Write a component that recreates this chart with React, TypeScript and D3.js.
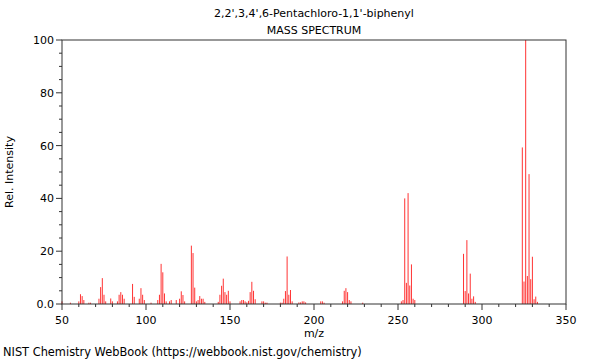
import { useEffect } from "react"
import * as d3 from "d3"

// m/z of each peak and its relative intensity
const masses = [
  50, 55, 60, 61, 62, 63, 66, 67, 72, 73, 74, 75, 76, 79, 80, 83, 84, 85, 86, 87,
  92, 93, 96, 97, 98, 99, 103, 107, 108, 109, 110, 111, 112, 114, 115, 118, 120, 121, 122, 123,
  127, 128, 129, 130, 131, 132, 133, 134, 135, 143, 144, 145, 146, 147, 148, 149, 150,
  156, 157, 158, 159, 160, 161, 162, 163, 164, 165, 169, 170, 171, 172,
  180, 181, 182, 183, 184, 185, 186, 187, 191, 192, 193, 194, 195, 204, 205, 206,
  217, 218, 219, 220, 221, 222, 229, 252, 253, 254, 255, 256, 257, 258, 259, 260,
  289, 290, 291, 292, 293, 294, 295, 296, 324, 325, 326, 327, 328, 329, 330, 331, 332, 333,
]
const intensities = [
  1, 0.5, 1, 3.7, 3, 1.5, 0.5, 0.5, 2, 6.4, 9.8, 3.5, 1, 2.1, 1, 1, 3.5, 4.5, 3.5, 2,
  7.6, 2.7, 2, 6, 3.5, 1.5, 0.5, 1.5, 3.5, 15.2, 12, 4, 1, 1, 1.5, 1.5, 2, 4.8, 3.4, 1,
  22.1, 19.3, 6.2, 1, 1.5, 3, 2, 2, 0.8, 0.8, 3.5, 6.9, 9.6, 4.5, 3.5, 5, 1,
  1, 1.5, 1.5, 1, 0.6, 1.2, 4.5, 8.4, 5, 1.8, 1, 1, 0.5, 0.5,
  0.5, 0.5, 2, 4.9, 18, 3.5, 5.3, 1, 0.6, 0.6, 1, 1, 0.6, 1, 1, 0.5,
  1, 5, 6, 4.5, 1.5, 1, 0.5, 1, 1.5, 40, 8, 42, 7, 15, 2, 1.5,
  19, 4.9, 24.2, 4, 11.5, 2, 2.9, 0.8, 59.3, 8.5, 100, 10.6, 49.2, 9.4, 17.9, 1.8, 2.8, 0.8,
]

const xTicks = [50, 100, 150, 200, 250, 300, 350]
const yTicks = [0, 20, 40, 60, 80, 100]
const yTickLabels = ["0.0", "20", "40", "60", "80", "100"]

const title = "2,2',3,4',6-Pentachloro-1,1'-biphenyl"
const subtitle = "MASS SPECTRUM"
const footer = "NIST Chemistry WebBook (https://webbook.nist.gov/chemistry)"

const width = 600
const height = 360
const margin = { top: 40, right: 34, bottom: 56, left: 62 }
const font = "DejaVu Sans, sans-serif"
const axisColor = "#333"

export default function App() {
  useEffect(() => {
    document.body.style.margin = "0"
  }, [])

  const x = d3.scaleLinear().domain([50, 350]).range([margin.left, width - margin.right])
  const y = d3.scaleLinear().domain([0, 100]).range([height - margin.bottom, margin.top])

  const minorX = d3.range(50, 351, 10).filter((v) => !xTicks.includes(v))
  const minorY = d3.range(0, 101, 5).filter((v) => !yTicks.includes(v))

  const x0 = x.range()[0]
  const x1 = x.range()[1]
  const y0 = y.range()[0]
  const y1 = y.range()[1]

  return (
    <svg width={width} height={height} style={{ display: "block" }} fontFamily={font}>
      <rect width={width} height={height} fill="white" />

      <text x={(x0 + x1) / 2} y={17} fontSize={11} textAnchor="middle" fill="#000">
        {title}
      </text>
      <text x={(x0 + x1) / 2} y={34} fontSize={11} textAnchor="middle" fill="#000">
        {subtitle}
      </text>

      {/* peaks */}
      <g stroke="#ff3333" strokeWidth={1}>
        {masses.map((m, i) => (
          <line key={m} x1={x(m)} x2={x(m)} y1={y(0)} y2={y(intensities[i])} />
        ))}
      </g>

      {/* frame */}
      <rect x={x0} y={y1} width={x1 - x0} height={y0 - y1} fill="none" stroke={axisColor} strokeWidth={1} />

      {/* x axis */}
      <g stroke={axisColor}>
        {minorX.map((v) => (
          <line key={v} x1={x(v)} x2={x(v)} y1={y0} y2={y0 + 3} />
        ))}
        {xTicks.map((v) => (
          <line key={v} x1={x(v)} x2={x(v)} y1={y0} y2={y0 + 6} />
        ))}
      </g>
      {xTicks.map((v) => (
        <text key={v} x={x(v)} y={y0 + 20} fontSize={11} textAnchor="middle" fill="#000">
          {v}
        </text>
      ))}
      <text x={(x0 + x1) / 2} y={y0 + 33} fontSize={11} textAnchor="middle" fill="#000">
        m/z
      </text>

      {/* y axis */}
      <g stroke={axisColor}>
        {minorY.map((v) => (
          <line key={v} x1={x0 - 3} x2={x0} y1={y(v)} y2={y(v)} />
        ))}
        {yTicks.map((v) => (
          <line key={v} x1={x0 - 6} x2={x0} y1={y(v)} y2={y(v)} />
        ))}
      </g>
      {yTicks.map((v, i) => (
        <text key={v} x={x0 - 8} y={y(v) + 4} fontSize={11} textAnchor="end" fill="#000">
          {yTickLabels[i]}
        </text>
      ))}
      <text
        transform={`translate(13,${(y0 + y1) / 2}) rotate(-90)`}
        fontSize={11}
        textAnchor="middle"
        fill="#000"
      >
        Rel. Intensity
      </text>

      <text x={3} y={356} fontSize={11.4} fill="#000">
        {footer}
      </text>
    </svg>
  )
}
